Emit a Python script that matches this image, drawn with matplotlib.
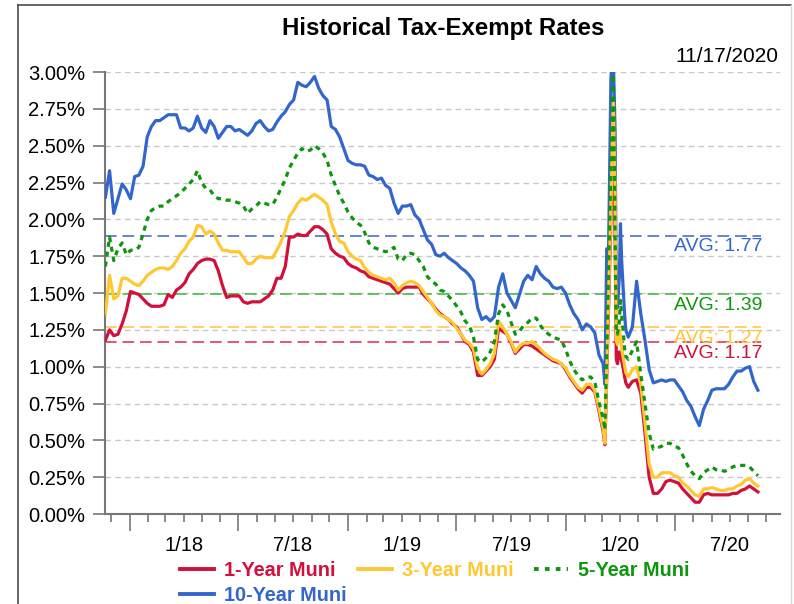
import numpy as np
import pandas as pd
import matplotlib
matplotlib.use("Agg")
import matplotlib.pyplot as plt
import matplotlib.dates as mdates
from matplotlib.lines import Line2D
from matplotlib.ticker import FuncFormatter

plt.rcParams['font.family'] = ['Liberation Sans', 'DejaVu Sans']

# ---------------- data ----------------
weekly_pre = pd.date_range('2017-11-21', '2020-03-03', freq='7D')
spike_dates = pd.to_datetime(['2020-03-06', '2020-03-09', '2020-03-12', '2020-03-16', '2020-03-18',
                              '2020-03-20', '2020-03-23', '2020-03-25', '2020-03-27', '2020-03-30',
                              '2020-04-01', '2020-04-03', '2020-04-06', '2020-04-08', '2020-04-10'])
weekly_post = pd.date_range('2020-04-14', '2020-11-17', freq='7D')
dates = weekly_pre.append(spike_dates).append(weekly_post)

muni_1yr = [
    1.18, 1.25, 1.21, 1.22, 1.29, 1.38, 1.51, 1.50, 1.49, 1.46, 1.43, 1.41, 1.41, 1.41, 1.42, 1.49,
    1.47, 1.52, 1.54, 1.57, 1.63, 1.66, 1.70, 1.72, 1.73, 1.73, 1.72, 1.65, 1.55, 1.47, 1.48,
    1.48, 1.48, 1.44, 1.43, 1.44, 1.44, 1.44, 1.46, 1.48, 1.52, 1.60, 1.60, 1.68, 1.88, 1.88, 1.90,
    1.89, 1.89, 1.92, 1.95, 1.95, 1.93, 1.90, 1.80, 1.77, 1.75, 1.74, 1.70, 1.68, 1.67, 1.65,
    1.64, 1.61, 1.60, 1.59, 1.58, 1.57, 1.56, 1.53, 1.50, 1.53, 1.54, 1.54, 1.54, 1.54, 1.49, 1.46,
    1.43, 1.39, 1.36, 1.34, 1.32, 1.29, 1.27, 1.22, 1.17, 1.15, 1.10, 0.94, 0.94, 0.97, 1.00,
    1.05, 1.26, 1.24, 1.22, 1.16, 1.09, 1.12, 1.15, 1.15, 1.14, 1.12, 1.10, 1.08, 1.06, 1.04, 1.03,
    1.02, 0.98, 0.93, 0.89, 0.85, 0.82, 0.86, 0.86, 0.83, 0.70, 0.56,
    0.47, 0.92, 1.38, 2.00, 2.35, 2.70, 1.90, 1.05, 1.02, 1.10, 1.08, 1.04, 0.98, 0.93, 0.89,
    0.86, 0.90, 0.91, 0.82, 0.55, 0.25, 0.14, 0.14, 0.17, 0.22, 0.23, 0.22, 0.21, 0.17, 0.14, 0.11,
    0.08, 0.08, 0.13, 0.14, 0.13, 0.13, 0.13, 0.13, 0.13, 0.14, 0.14, 0.16, 0.17, 0.19, 0.17, 0.15]

muni_3yr = [
    1.36, 1.62, 1.46, 1.48, 1.60, 1.60, 1.58, 1.56, 1.55, 1.58, 1.62, 1.64, 1.66, 1.67, 1.67, 1.66,
    1.68, 1.72, 1.77, 1.80, 1.85, 1.88, 1.96, 1.95, 1.90, 1.92, 1.90, 1.84, 1.79, 1.79, 1.78,
    1.78, 1.78, 1.74, 1.70, 1.70, 1.73, 1.75, 1.74, 1.74, 1.74, 1.79, 1.85, 1.92, 2.02, 2.06, 2.11,
    2.14, 2.13, 2.15, 2.17, 2.15, 2.13, 2.10, 1.98, 1.90, 1.85, 1.84, 1.78, 1.75, 1.73, 1.72,
    1.67, 1.64, 1.62, 1.61, 1.60, 1.59, 1.60, 1.57, 1.52, 1.55, 1.57, 1.58, 1.57, 1.55, 1.51, 1.47,
    1.43, 1.38, 1.35, 1.34, 1.32, 1.30, 1.26, 1.22, 1.18, 1.16, 1.12, 0.99, 0.95, 0.98, 1.02,
    1.09, 1.31, 1.27, 1.22, 1.17, 1.10, 1.14, 1.16, 1.16, 1.17, 1.15, 1.12, 1.09, 1.07, 1.05, 1.04,
    1.02, 0.99, 0.94, 0.90, 0.86, 0.84, 0.88, 0.88, 0.84, 0.72, 0.58,
    0.48, 0.98, 1.45, 2.09, 2.45, 2.80, 2.20, 1.18, 1.15, 1.25, 1.20, 1.12, 1.05, 1.00, 0.96,
    0.93, 0.98, 1.00, 0.88, 0.62, 0.34, 0.25, 0.25, 0.28, 0.28, 0.28, 0.26, 0.25, 0.21, 0.19, 0.16,
    0.13, 0.12, 0.17, 0.17, 0.18, 0.17, 0.16, 0.16, 0.17, 0.17, 0.19, 0.20, 0.23, 0.24, 0.21, 0.19]

muni_5yr = [
    1.68, 1.88, 1.72, 1.80, 1.84, 1.76, 1.79, 1.79, 1.81, 1.90, 2.00, 2.06, 2.08, 2.09, 2.09, 2.12,
    2.14, 2.16, 2.18, 2.21, 2.24, 2.27, 2.33, 2.25, 2.21, 2.20, 2.16, 2.14, 2.14, 2.13, 2.13,
    2.12, 2.11, 2.09, 2.04, 2.07, 2.09, 2.12, 2.11, 2.10, 2.10, 2.15, 2.21, 2.27, 2.35, 2.40, 2.45,
    2.48, 2.46, 2.47, 2.50, 2.48, 2.45, 2.40, 2.30, 2.23, 2.16, 2.11, 2.05, 2.01, 1.98, 1.96,
    1.91, 1.84, 1.81, 1.80, 1.79, 1.78, 1.79, 1.81, 1.73, 1.72, 1.76, 1.77, 1.76, 1.72, 1.68, 1.61,
    1.58, 1.56, 1.52, 1.51, 1.48, 1.45, 1.41, 1.37, 1.31, 1.28, 1.20, 1.05, 1.03, 1.06, 1.10,
    1.17, 1.36, 1.42, 1.38, 1.30, 1.22, 1.24, 1.28, 1.30, 1.33, 1.33, 1.28, 1.24, 1.22, 1.20, 1.19,
    1.18, 1.12, 1.04, 0.98, 0.94, 0.91, 0.93, 0.93, 0.90, 0.76, 0.65,
    0.57, 1.10, 1.65, 2.35, 2.70, 3.05, 1.90, 1.25, 1.22, 1.30, 1.45, 1.35, 1.22, 1.12, 1.07,
    1.05, 1.11, 1.17, 0.95, 0.75, 0.55, 0.44, 0.45, 0.46, 0.48, 0.48, 0.46, 0.45, 0.40, 0.34, 0.29,
    0.26, 0.24, 0.28, 0.30, 0.32, 0.30, 0.30, 0.29, 0.30, 0.32, 0.33, 0.33, 0.33, 0.32, 0.29, 0.26]

muni_10yr = [
    2.15, 2.33, 2.04, 2.14, 2.24, 2.20, 2.14, 2.29, 2.30, 2.36, 2.56, 2.63, 2.67, 2.67, 2.69, 2.71,
    2.71, 2.71, 2.62, 2.62, 2.60, 2.62, 2.70, 2.62, 2.59, 2.67, 2.63, 2.55, 2.59, 2.63, 2.63,
    2.60, 2.61, 2.59, 2.57, 2.60, 2.65, 2.67, 2.63, 2.60, 2.61, 2.66, 2.70, 2.73, 2.78, 2.81, 2.93,
    2.91, 2.90, 2.93, 2.97, 2.89, 2.84, 2.81, 2.63, 2.61, 2.56, 2.48, 2.40, 2.38, 2.37, 2.37,
    2.36, 2.30, 2.29, 2.27, 2.28, 2.23, 2.21, 2.11, 2.04, 2.09, 2.09, 2.10, 2.03, 2.00, 1.93, 1.86,
    1.83, 1.76, 1.75, 1.77, 1.74, 1.72, 1.70, 1.67, 1.65, 1.62, 1.58, 1.40, 1.32, 1.34, 1.31,
    1.34, 1.54, 1.63, 1.50, 1.45, 1.40, 1.49, 1.58, 1.62, 1.59, 1.68, 1.63, 1.60, 1.58, 1.54, 1.53,
    1.54, 1.50, 1.42, 1.36, 1.32, 1.25, 1.29, 1.27, 1.23, 1.08, 1.02,
    0.88, 1.80, 1.76, 2.95, 3.10, 3.10, 2.60, 1.50, 1.40, 1.60, 1.97, 1.72, 1.50, 1.35, 1.25,
    1.20, 1.27, 1.58, 1.36, 1.18, 0.98, 0.89, 0.90, 0.91, 0.90, 0.91, 0.91, 0.87, 0.83, 0.77, 0.73,
    0.66, 0.60, 0.71, 0.77, 0.84, 0.85, 0.85, 0.85, 0.88, 0.93, 0.97, 0.97, 0.99, 1.00, 0.90, 0.84]

series_names = ['1-Year Muni', '3-Year Muni', '5-Year Muni', '10-Year Muni']
avg_labels = [1.17, 1.27, 1.39, 1.77]          # printed averages
avg_levels = [1.17, 1.27, 1.49, 1.89]          # where the dashed lines are drawn
xtick_labels = ['1/18', '7/18', '1/19', '7/19', '1/20', '7/20']
xtick_label_dates = pd.to_datetime(['2018-04-01', '2018-10-01', '2019-04-01',
                                    '2019-10-01', '2020-04-01', '2020-10-01'])
yticks = np.arange(0, 3.01, 0.25)
chart_title = 'Historical Tax-Exempt Rates'
as_of = '11/17/2020'

for s in (muni_1yr, muni_3yr, muni_5yr, muni_10yr):
    assert len(s) == len(dates), (len(s), len(dates))

# ---------------- styling ----------------
RED = '#D2103C'
YEL = '#FFC832'
GRN = '#0E960E'
BLU = '#3366CC'
avg_line_colors = ['#E03A5C', '#FFC84A', '#4CB84C', '#4A72C8']
avg_text_colors = [RED, YEL, GRN, BLU]

fig = plt.figure(figsize=(7.94, 6.04), dpi=100)
W, H = 794, 604
ax = fig.add_axes([104.8 / W, 1 - 514 / H, (780 - 104.8) / W, (514 - 72) / H])

# frame around figure
fig.add_artist(Line2D([18 / W, 18 / W], [0, 1 - 5 / H], transform=fig.transFigure, color='#4a4a4a', lw=1.2))
fig.add_artist(Line2D([18 / W, 791 / W], [1 - 5 / H, 1 - 5 / H], transform=fig.transFigure, color='#4a4a4a', lw=1.2))
fig.add_artist(Line2D([791 / W, 791 / W], [0, 1 - 5 / H], transform=fig.transFigure, color='#d8d8d8', lw=1.0))

# grid
ax.set_ylim(0, 3.0)
ax.set_xlim(pd.Timestamp('2017-11-20'), pd.Timestamp('2020-12-24'))
for yv in yticks[1:]:
    ax.axhline(yv, color='#c8c8c8', lw=1.0, ls=(0, (4, 3)), zorder=1)

# average lines
avg_end = pd.Timestamp('2020-11-23')
for lvl, lab, lc, tc in zip(avg_levels, avg_labels, avg_line_colors, avg_text_colors):
    ax.hlines(lvl, dates[0], avg_end, colors=lc, linestyles=(0, (7, 3.5)), lw=1.2, zorder=2)
    ax.annotate(f'AVG: {lab:.2f}', xy=(avg_end, lvl), xytext=(0.5, -8.2), textcoords='offset points',
                ha='right', va='center', fontsize=14, color=tc, zorder=7)

# series
l10, = ax.plot(dates, muni_10yr, color=BLU, lw=2.3, zorder=3, solid_joinstyle='round')
l1, = ax.plot(dates, muni_1yr, color=RED, lw=2.3, zorder=4, solid_joinstyle='round')
l3, = ax.plot(dates, muni_3yr, color=YEL, lw=2.3, zorder=5, solid_joinstyle='round')
l5, = ax.plot(dates, muni_5yr, color=GRN, lw=2.3, ls=(0, (1.6, 1.5)), zorder=6)

# axes styling
for side in ('top', 'right'):
    ax.spines[side].set_visible(False)
for side in ('left', 'bottom'):
    ax.spines[side].set_color('#777777')
    ax.spines[side].set_linewidth(1.5)

ax.set_yticks(yticks)
ax.yaxis.set_major_formatter(FuncFormatter(lambda v, p: f'{v:.2f}%'))
ax.tick_params(axis='y', direction='out', length=9, width=1.2, color='#777777', pad=5,
               labelsize=14.5, labelcolor='black')

ax.xaxis.set_major_locator(mdates.MonthLocator(bymonth=[1, 7]))
ax.xaxis.set_minor_locator(mdates.MonthLocator(bymonth=[2, 3, 4, 5, 6, 8, 9, 10, 11, 12]))
ax.xaxis.set_major_formatter(FuncFormatter(lambda v, p: ''))
label_map = {d.strftime('%Y-%m'): t for d, t in zip(xtick_label_dates, xtick_labels)}
ax.xaxis.set_minor_formatter(FuncFormatter(
    lambda v, p: label_map.get(mdates.num2date(v).strftime('%Y-%m'), '')))
ax.tick_params(axis='x', which='major', direction='out', length=12, width=1.2, color='#777777')
ax.tick_params(axis='x', which='minor', direction='out', length=6, width=1.2, color='#777777',
               pad=10, labelsize=14.5, labelcolor='black')

# titles
fig.text(443 / W, 1 - 29 / H, chart_title, ha='center', va='center', fontsize=17.3, fontweight='bold')
fig.text(778 / W, 1 - 56 / H, as_of, ha='right', va='center', fontsize=15)

# legend (three column groups, positioned like the reference)
h1 = Line2D([], [], color=RED, lw=2.8)
h3 = Line2D([], [], color=YEL, lw=2.8)
h5 = Line2D([], [], color=GRN, lw=2.8, ls=(0, (1.2, 1.6)))
h10 = Line2D([], [], color=BLU, lw=2.8)
leg_kw = dict(loc='upper left', frameon=False, prop={'weight': 'bold', 'size': 14.3},
              labelcolor='linecolor', handlelength=1.7, handletextpad=0.5,
              labelspacing=0.3, borderpad=0, borderaxespad=0)
leg_top = 1 - 561 / H
fig.legend([h1, h10], [series_names[0], series_names[3]], bbox_to_anchor=(180 / W, leg_top), **leg_kw)
fig.legend([h3], [series_names[1]], bbox_to_anchor=(358 / W, leg_top), **leg_kw)
fig.legend([h5], [series_names[2]], bbox_to_anchor=(534 / W, leg_top), **leg_kw)

fig.savefig('out.png', dpi=100)
